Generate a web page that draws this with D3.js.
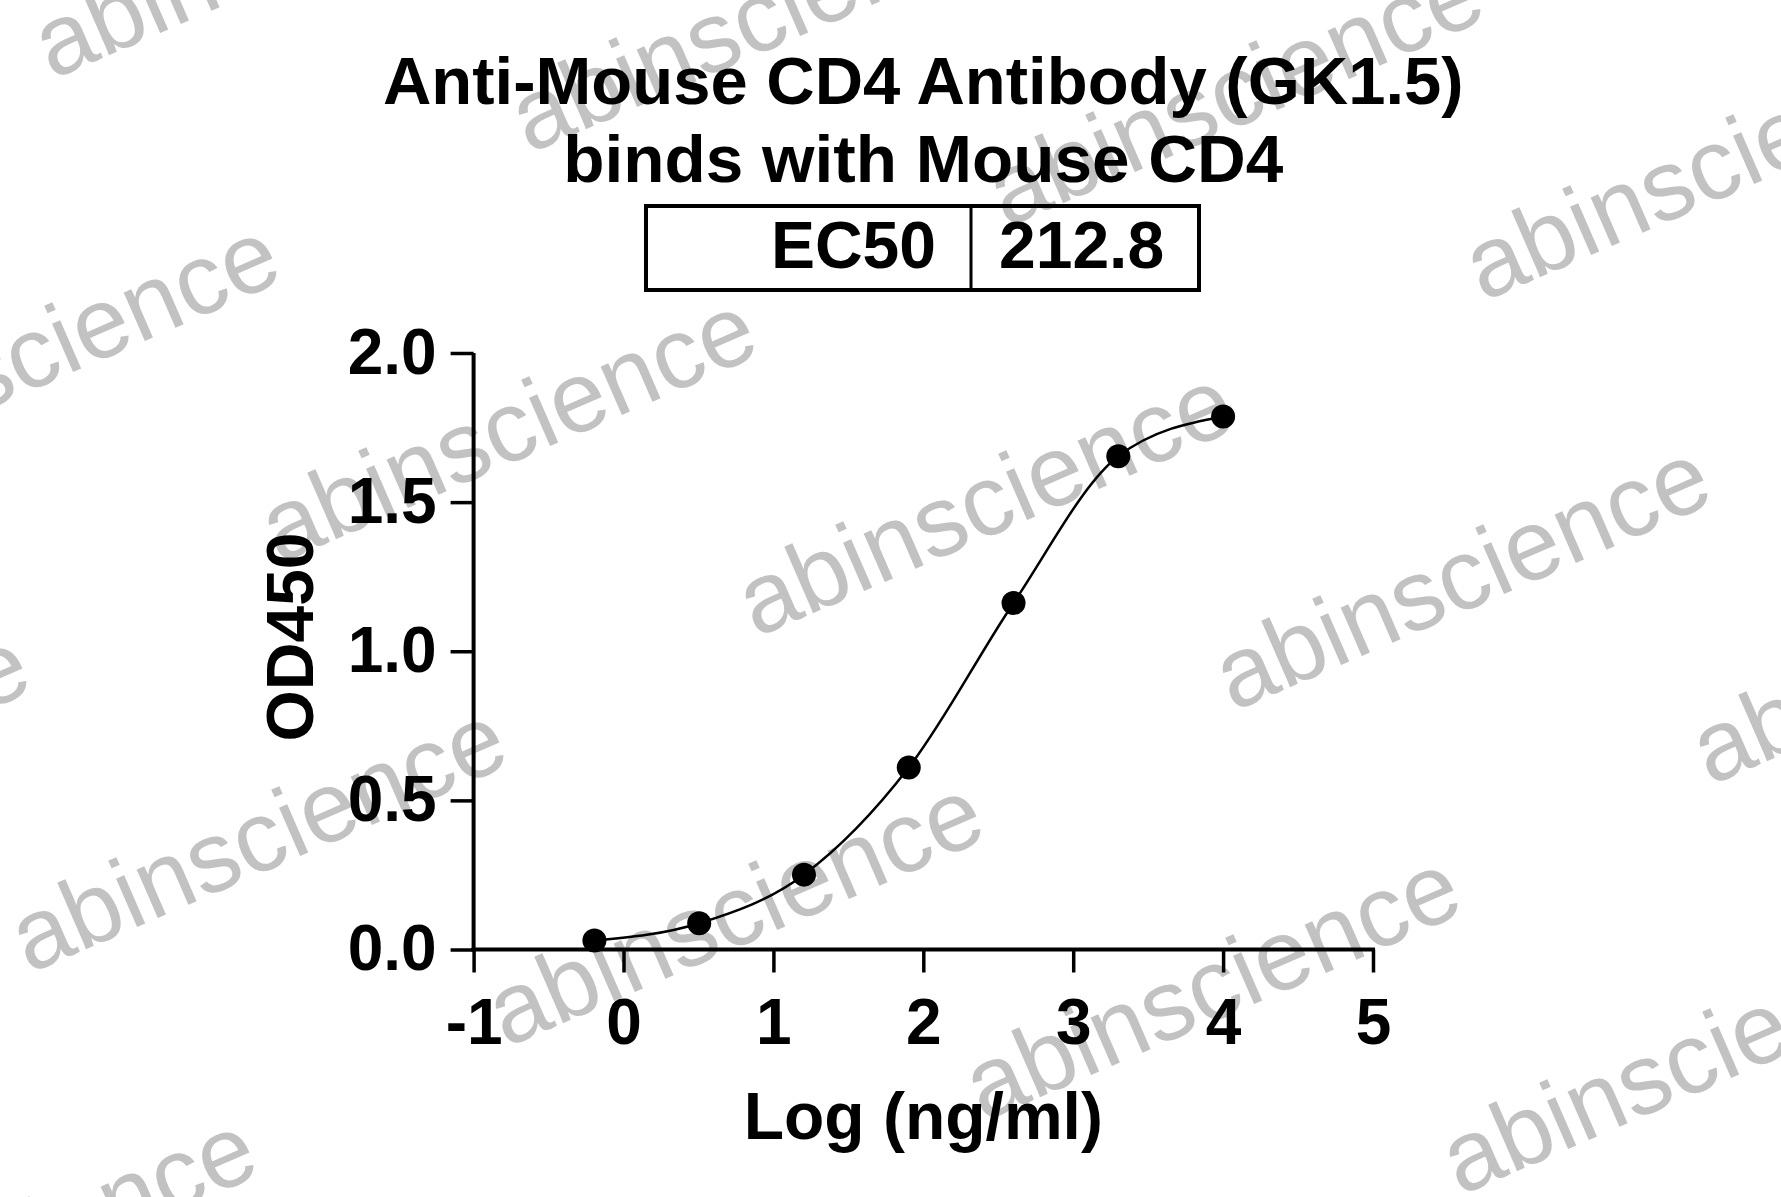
<!DOCTYPE html>
<html>
<head>
<meta charset="utf-8">
<script src="https://cdn.jsdelivr.net/npm/d3@7"></script>
<style>
  html, body { margin: 0; padding: 0; background: #fff; }
  svg { display: block; }
  text { font-family: "Liberation Sans", Arial, Helvetica, sans-serif; }
</style>
</head>
<body>
<svg id="chart" width="1781" height="1197"></svg>
<script>
// ---- data ----
const titleLines = ["Anti-Mouse CD4 Antibody (GK1.5)", "binds with Mouse CD4"];
const ec50Label = "EC50";
const ec50Value = "212.8";
const xLabel = "Log (ng/ml)";
const yLabel = "OD450";
const logConc = [-0.194, 0.505, 1.204, 1.903, 2.602, 3.301, 4.0];
const od450 = [0.030, 0.088, 0.251, 0.610, 1.162, 1.654, 1.787];
const xTicks = [-1, 0, 1, 2, 3, 4, 5];
const yTicks = [0, 0.5, 1.0, 1.5, 2.0];
const watermarkText = "abinscience";

// ---- layout ----
const svg = d3.select("#chart");
const W = 1781, H = 1197;
svg.append("rect").attr("width", W).attr("height", H).attr("fill", "#fff");

// watermarks (decoration, drawn beneath the chart)
const wmPos = [
  [52, 80], [529, 154], [1006, 228], [1483, 302],
  [-198, 490], [279, 564], [756, 638], [1233, 712], [1710, 786],
  [-448, 900], [29, 974], [506, 1048], [983, 1122], [1460, 1196],
  [-221, 1384]
];
svg.append("g").selectAll("text").data(wmPos).join("text")
  .attr("transform", d => `translate(${d[0]},${d[1]}) rotate(-23.5)`)
  .attr("font-size", 100).attr("fill", "#c2c2c2")
  .text(watermarkText);

const plot = { left: 473.6, right: 1373, top: 353, bottom: 949.5 };
const x = d3.scaleLinear().domain([-1, 5]).range([plot.left, plot.right]);
const y = d3.scaleLinear().domain([0, 2]).range([plot.bottom, plot.top]);
const cx = (plot.left + plot.right) / 2;

// title
svg.append("g").selectAll("text").data(titleLines).join("text")
  .attr("x", cx).attr("y", (d, i) => 104 + i * 78)
  .attr("text-anchor", "middle")
  .attr("font-size", (d, i) => i === 0 ? 67 : 67.5).attr("font-weight", "bold").attr("fill", "#000")
  .text(d => d);

// EC50 box
const box = { x0: 646, x1: 1199, y0: 206, y1: 290, div: 971 };
const bg = svg.append("g");
bg.append("rect").attr("x", box.x0).attr("y", box.y0)
  .attr("width", box.x1 - box.x0).attr("height", box.y1 - box.y0)
  .attr("fill", "none").attr("stroke", "#000").attr("stroke-width", 4);
bg.append("line").attr("x1", box.div).attr("x2", box.div)
  .attr("y1", box.y0).attr("y2", box.y1).attr("stroke", "#000").attr("stroke-width", 3);
bg.append("text").attr("x", 936).attr("y", 268).attr("text-anchor", "end")
  .attr("font-size", 66).attr("font-weight", "bold").text(ec50Label);
bg.append("text").attr("x", 999).attr("y", 268).attr("text-anchor", "start")
  .attr("font-size", 66).attr("font-weight", "bold").text(ec50Value);

// axes
const xAxis = d3.axisBottom(x).tickValues(xTicks).tickFormat(d => String(d))
  .tickSize(23).tickSizeOuter(0).tickPadding(26);
const yAxis = d3.axisLeft(y).tickValues(yTicks).tickFormat(d3.format(".1f"))
  .tickSize(23).tickSizeOuter(0).tickPadding(14);

const gx = svg.append("g").attr("transform", `translate(0,${plot.bottom})`).call(xAxis);
const gy = svg.append("g").attr("transform", `translate(${plot.left},0)`).call(yAxis);
[gx, gy].forEach(g => {
  g.select(".domain").attr("stroke", "#000").attr("stroke-width", 4);
  g.selectAll(".tick line").attr("stroke", "#000").attr("stroke-width", 3.5);
  g.selectAll(".tick text").attr("fill", "#000").attr("font-size", 64)
    .attr("font-weight", "bold")
    .attr("font-family", "'Liberation Sans', Arial, sans-serif");
});
gx.select(".domain").attr("d", `M${plot.left - 2},0H${plot.right + 2}`);
gy.select(".domain").attr("d", `M0,${plot.top}V${plot.bottom + 2}`);

// axis labels
svg.append("text").attr("x", cx).attr("y", 1139).attr("text-anchor", "middle")
  .attr("font-size", 66).attr("font-weight", "bold").text(xLabel);
svg.append("text").attr("transform", `translate(313,637) rotate(-90)`)
  .attr("text-anchor", "middle").attr("font-size", 66).attr("font-weight", "bold")
  .text(yLabel);

// curve + points
const pts = logConc.map((v, i) => [v, od450[i]]);
const line = d3.line().x(d => x(d[0])).y(d => y(d[1])).curve(d3.curveMonotoneX);
svg.append("path").attr("d", line(pts)).attr("fill", "none")
  .attr("stroke", "#000").attr("stroke-width", 2.5);
svg.append("g").selectAll("circle").data(pts).join("circle")
  .attr("cx", d => x(d[0])).attr("cy", d => y(d[1])).attr("r", 12).attr("fill", "#000");
</script>
</body>
</html>
